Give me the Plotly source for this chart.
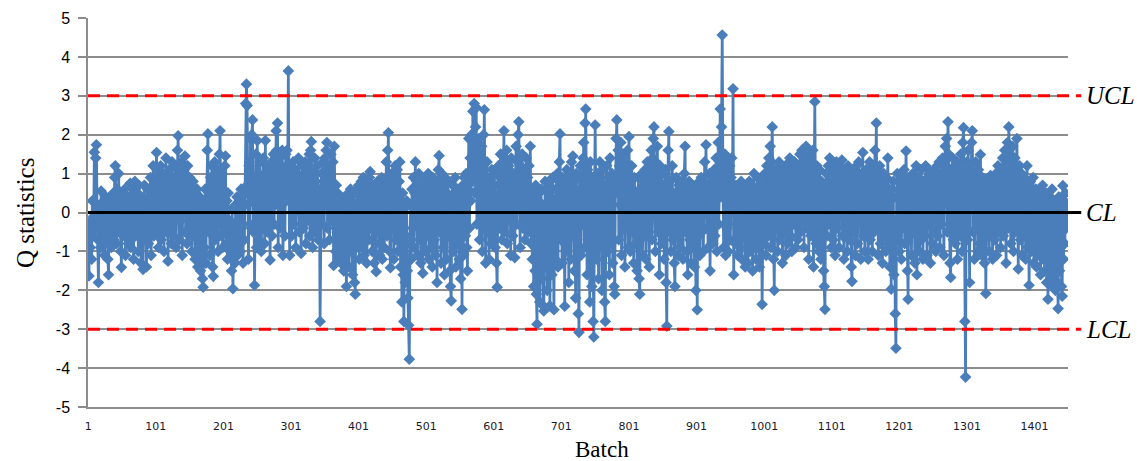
import plotly.graph_objects as go

# Q statistic per batch, split in blocks
q_0001_0250 = [
    -0.3,-1.63,-0.5,-0.9,-0.2,-1.2,0.3,-0.6,-0.1,1.55,
    -0.4,1.4,1.74,0.2,-0.7,-1.8,-0.3,0.1,-0.9,0.55,
    -0.5,0.2,-0.8,0.3,-1.1,-0.2,0.4,-0.6,0.1,-1.2,
    -1.6,0.3,-0.4,0.4,-0.9,0.2,-0.3,0.5,-0.7,0.9,
    1.2,0.1,-0.8,0.6,-0.2,1.0,-0.5,0.3,-1.0,-1.41,
    0.2,-0.6,0.5,-0.3,0.6,-1.1,0.1,-0.5,0.4,-0.8,
    0.3,-0.2,0.75,-0.9,0.2,-0.4,0.6,-1.2,0.0,0.8,
    -0.6,0.3,-0.3,0.5,-1.0,0.7,-0.2,0.4,-1.3,0.1,
    -0.7,-1.46,0.2,0.7,-0.5,0.3,-1.4,0.0,0.6,-0.8,
    0.4,-0.4,0.9,-1.1,0.5,-0.3,1.2,-0.6,0.8,-0.2,
    0.6,1.54,-0.4,1.1,-0.9,0.8,0.2,1.2,-0.7,0.5,
    -0.2,1.0,-1.0,0.7,0.1,1.4,-0.5,0.9,-1.25,0.4,
    1.1,-0.3,0.6,-0.8,1.3,0.2,-0.6,0.9,-0.1,1.2,
    -0.9,0.5,1.6,1.97,0.3,-0.7,1.0,-0.2,1.3,-1.1,
    0.6,0.0,1.1,1.45,-0.5,0.8,-0.8,1.2,0.2,-0.6,
    0.9,-0.4,0.7,-1.0,0.3,0.8,-0.6,0.2,-1.2,0.5,
    -0.3,0.6,-1.4,0.1,-0.8,0.4,-1.5,-0.2,0.3,-1.7,
    -1.92,0.1,-0.9,0.6,-1.3,0.2,1.6,2.02,-0.5,0.4,
    -1.1,0.9,-0.3,1.2,-1.4,-1.64,0.5,1.3,-0.7,0.8,
    -0.2,1.1,-1.0,0.4,1.5,2.1,0.0,-0.6,1.0,-0.9,
    0.6,-0.5,1.2,1.45,-0.8,0.3,-1.2,0.5,-0.6,-0.2,
    -1.0,-0.4,-1.5,0.1,-1.96,-0.7,-0.3,-1.3,0.2,-0.8,
    0.4,-1.1,0.0,-0.6,0.3,-1.0,0.6,-0.4,0.2,-1.3,
    0.5,-0.7,0.65,2.8,3.3,2.75,0.2,-1.2,1.2,-0.3,
    1.9,0.4,2.0,2.38,-0.5,0.9,-1.87,0.6,1.5,-0.9,
]
q_0251_0500 = [
    1.85,0.3,1.0,-0.7,1.3,0.1,-1.0,0.8,-0.4,1.4,
    0.5,-0.8,1.85,0.2,1.2,-0.5,0.9,-0.2,1.1,-1.22,
    0.4,1.3,-0.6,0.7,1.5,-0.3,1.0,0.2,2.1,1.6,
    2.3,-0.9,0.8,1.4,-0.4,0.6,1.2,1.6,-1.1,0.5,
    1.0,-0.6,1.5,0.3,1.6,0.9,3.64,0.4,-1.1,0.7,
    1.2,-0.6,0.9,1.3,-0.3,0.5,1.1,-0.9,0.7,0.2,
    1.0,1.4,-0.5,0.8,0.0,-1.05,0.6,1.2,-0.4,0.9,
    0.3,1.3,-0.8,0.5,1.1,-0.2,0.7,1.5,-0.6,1.6,
    1.82,0.4,-0.9,1.0,0.2,1.4,-0.5,0.8,-0.1,1.2,
    -0.7,0.6,0.1,-2.8,0.5,1.0,-0.3,1.3,0.4,-0.8,
    1.4,0.2,1.6,1.8,-0.4,0.9,1.2,-0.7,0.6,1.5,
    -0.2,0.8,1.3,-1.36,1.7,0.3,-1.0,0.7,-0.5,0.5,
    -1.2,0.2,-0.6,0.4,-1.3,0.1,-0.8,0.3,-1.5,-0.2,
    0.4,-1.1,-1.9,0.2,-0.7,0.5,-1.4,0.0,0.6,-1.0,
    0.3,-1.6,0.5,-0.4,-1.8,-2.1,0.2,-0.9,0.6,-0.3,
    0.7,-1.2,0.4,-0.6,0.8,-0.9,0.2,0.9,-1.1,0.5,
    -0.3,0.8,-1.3,0.3,0.6,-0.7,0.9,1.05,-0.4,0.5,
    -1.0,0.7,0.1,-1.3,0.6,-0.8,-1.52,0.4,0.8,-0.5,
    0.3,-1.1,0.7,-0.2,0.9,-1.2,0.4,0.6,-0.9,0.8,
    0.2,1.3,-0.6,1.6,2.05,0.3,-1.0,-1.42,0.5,1.0,
    -0.4,0.9,-1.2,0.6,1.2,-0.7,0.4,1.1,-1.0,0.3,
    0.8,1.3,-1.4,0.2,-2.3,0.5,-1.6,-2.8,0.1,-1.8,
    -0.6,0.3,-1.5,-2.2,-2.9,-3.77,-0.8,0.2,-1.2,0.6,
    -0.4,0.9,-0.9,0.5,1.3,-0.3,0.8,-1.1,0.4,1.0,
    -0.7,0.6,-1.3,0.2,0.9,-1.56,0.3,-0.5,0.7,-1.0,
]
q_0501_0750 = [
    0.8,-0.6,0.4,1.0,-1.2,0.2,0.7,-0.9,0.5,-1.4,
    0.9,0.1,-0.7,0.6,-1.1,0.8,-1.8,0.3,1.1,1.46,
    -0.5,0.7,-1.3,1.0,0.2,-0.9,0.6,-1.6,0.9,0.0,
    -1.2,0.5,0.8,-0.6,0.3,-1.5,-1.9,-2.27,0.4,0.7,
    -1.0,0.5,-0.3,0.9,-1.4,0.2,0.6,-0.8,0.4,-1.2,
    0.5,-1.7,0.3,-2.49,0.7,-1.1,0.9,0.2,-0.6,1.0,
    -0.9,-1.5,0.6,1.9,-0.4,1.4,0.3,2.0,0.8,2.6,
    1.2,2.8,0.5,2.2,2.7,-0.3,1.5,0.6,1.9,-0.7,
    1.2,0.4,1.7,-1.0,0.9,2.0,2.64,0.3,-1.3,0.8,
    1.3,-0.5,0.6,-1.2,0.9,0.2,-0.8,1.1,0.4,-0.6,
    0.5,1.0,-0.9,0.4,-1.3,-1.92,0.7,1.2,-0.4,0.9,
    1.5,0.1,-0.7,1.3,0.6,2.1,-0.5,1.1,0.3,1.6,
    -0.8,0.7,1.2,-0.2,0.9,-1.1,1.4,0.4,-0.6,1.0,
    0.2,-1.16,0.8,1.7,-0.3,1.3,2.0,2.33,0.5,-0.9,
    1.2,0.3,1.5,-0.4,0.8,1.1,-0.7,0.6,1.4,-0.2,
    0.9,-0.5,1.2,0.3,1.7,-0.8,0.6,-1.2,0.4,-1.9,
    0.2,-1.5,0.7,-2.1,-2.87,0.3,-1.0,0.5,-2.3,-0.4,
    0.6,-1.7,0.2,-2.4,-2.53,-0.6,0.8,-1.4,0.1,-2.0,
    0.5,-1.1,0.7,-2.4,-0.3,0.4,-1.6,0.9,-0.8,-2.5,
    0.3,-1.2,0.6,-0.5,1.0,-1.4,0.8,1.3,2.02,-0.7,
    0.5,-1.3,0.9,-0.6,0.3,-2.41,0.7,-1.0,1.1,-0.4,
    0.6,-1.8,0.9,0.2,-1.2,1.3,-0.5,1.45,0.4,-1.5,
    0.8,-2.2,1.0,-0.7,0.5,-2.6,-3.08,0.6,1.2,-1.1,
    0.9,-0.3,1.4,1.8,-0.9,2.3,2.66,0.7,-1.6,1.1,
    -0.4,0.8,-2.3,1.3,0.2,-1.9,0.9,-2.8,-3.2,0.5,
]
q_0751_1000 = [
    2.25,0.4,-1.2,1.0,0.3,-1.7,0.8,1.3,-0.6,0.5,
    -2.0,1.1,-0.3,0.7,-2.3,-2.8,0.6,1.2,-1.0,0.9,
    0.1,-1.6,1.4,0.3,-0.8,1.0,-1.3,0.6,-1.9,-2.1,
    0.8,1.9,2.38,0.5,1.6,-0.7,1.2,0.2,1.8,-1.1,
    0.9,1.5,-0.4,1.1,-1.4,0.7,1.3,0.0,1.6,-0.9,
    1.95,0.3,-1.0,0.8,1.2,-0.5,0.6,-1.3,0.9,0.2,
    -0.8,0.5,-1.5,0.4,0.9,-1.7,-2.1,0.6,-0.3,1.0,
    -1.1,0.4,0.8,-0.6,1.1,-1.2,0.5,1.3,-0.2,0.9,
    -1.4,1.2,0.3,1.6,-0.7,1.4,1.9,2.2,0.6,-1.0,
    1.3,0.2,1.7,-0.5,0.9,-1.6,1.2,0.4,-0.8,1.0,
    -0.4,0.7,-1.2,0.3,1.1,-1.8,-2.92,0.6,1.6,2.08,
    -0.5,0.8,-1.0,0.4,1.2,-0.7,0.5,-1.3,-1.9,0.2,
    0.9,-0.6,0.4,-1.1,0.7,0.1,-0.9,0.6,-0.3,0.8,
    -1.2,0.4,1.0,1.7,-0.5,0.6,-1.0,-1.6,0.3,0.8,
    -0.7,0.5,-1.3,0.2,0.7,-0.9,0.4,-1.4,0.6,-2.0,
    0.5,-2.5,0.3,-0.6,0.8,-1.1,0.4,0.9,-0.5,0.6,
    -1.0,0.3,1.3,0.5,1.74,-0.4,0.7,-0.9,0.4,1.0,
    -1.5,0.6,-0.2,0.9,-0.8,0.5,1.1,-0.6,0.8,1.4,
    -1.0,0.7,1.8,-0.3,1.2,2.66,0.4,2.2,4.56,1.0,
    -0.9,0.6,1.5,-1.1,0.8,-0.4,1.3,-1.0,0.5,1.2,
    -0.7,0.9,1.4,0.3,3.18,-1.6,0.5,-0.8,0.7,-0.3,
    0.4,-1.1,0.6,0.1,-0.9,0.5,0.8,-1.2,0.3,0.7,
    -0.6,0.2,-1.4,0.6,-0.4,0.4,-1.3,0.1,0.8,-1.0,
    0.5,-0.2,0.7,-1.5,0.4,1.0,-0.7,0.6,-1.2,0.3,
    0.9,-0.9,0.2,-1.4,0.7,-0.5,0.5,-2.36,0.4,0.9,
]
q_1001_1250 = [
    -0.8,1.0,0.3,-1.1,1.2,0.5,-0.6,1.4,0.2,1.7,
    -0.9,1.3,2.2,0.6,-1.2,-2.0,0.8,1.1,-0.4,0.9,
    -1.0,0.5,1.3,-0.7,0.8,0.1,1.1,-1.3,0.6,1.0,
    -0.5,0.7,-1.1,1.2,0.3,-0.8,0.9,1.3,1.4,-0.6,
    0.5,-1.0,1.1,0.4,-0.3,1.3,0.2,-0.9,1.0,0.6,
    -0.7,1.2,0.4,1.5,-0.5,0.9,1.6,-0.2,1.1,-0.9,
    1.4,0.5,1.7,-0.4,0.8,1.3,-1.2,0.6,1.5,-0.6,
    1.0,0.2,1.6,-1.4,0.9,2.85,0.3,-0.8,1.2,-0.3,
    0.7,-1.0,1.1,0.4,-1.2,0.8,-0.5,0.6,-1.5,-1.9,
    -2.49,0.5,1.0,-0.6,0.7,1.2,-0.3,1.4,0.2,-0.9,
    1.0,0.3,-0.7,1.2,0.5,-1.1,0.8,1.3,-0.4,0.6,
    1.1,-0.9,0.4,1.2,0.0,1.35,-0.6,0.9,-1.2,0.7,
    1.1,-0.3,0.8,-1.0,1.2,0.2,-0.7,1.0,0.4,-1.4,
    -1.77,0.6,1.1,-0.5,0.9,-1.1,0.3,1.2,-0.8,0.7,
    1.3,-0.2,0.5,-1.2,1.0,0.4,1.54,-0.6,0.8,-1.0,
    0.7,1.1,-0.4,0.9,-1.2,0.5,1.3,-0.7,0.6,1.0,
    -1.0,0.3,1.2,-0.5,1.6,0.8,2.3,-0.3,1.1,-1.1,
    0.6,1.2,-0.8,0.4,0.9,-1.3,0.5,1.0,-0.6,0.7,
    -1.0,0.9,0.2,1.4,-0.9,0.5,-1.4,0.3,-1.97,0.6,
    -0.5,0.8,-1.6,-0.2,-2.6,-3.49,0.4,1.0,-0.7,0.6,
    -1.0,0.8,0.3,-1.2,0.9,-0.4,0.6,1.1,-0.8,0.5,
    1.58,0.2,-1.5,-2.23,0.7,-0.6,0.9,0.1,-1.1,0.6,
    1.0,-0.5,0.4,-1.3,0.8,1.2,-1.6,0.5,-0.3,0.9,
    -1.0,0.3,1.1,-0.7,0.6,-1.2,0.8,0.2,-0.6,1.2,
    0.4,-1.1,0.9,-0.3,1.1,0.5,-1.3,0.7,1.0,-0.8,
]
q_1251_1450 = [
    0.9,-0.4,1.1,0.3,-1.0,0.8,1.2,-0.6,0.5,1.3,
    -0.9,0.7,1.0,-0.3,1.4,0.2,-1.1,1.2,1.7,0.4,
    1.9,-0.5,2.33,1.5,0.6,-1.3,-1.67,1.1,0.3,1.4,
    -0.7,0.9,1.2,-0.8,0.5,1.3,-1.2,0.8,0.1,1.1,
    -0.6,1.5,0.4,-1.0,1.8,2.18,0.6,-2.8,-4.23,0.5,
    1.3,-0.7,1.6,0.4,-1.8,1.2,0.2,1.8,2.1,-0.5,
    1.0,-1.2,0.6,1.3,-0.4,0.8,-1.0,1.1,0.3,-0.8,
    1.49,0.5,-1.1,0.9,-0.3,0.6,-1.3,0.7,-2.08,0.4,
    -0.6,0.8,0.1,-1.0,0.5,0.95,-0.4,0.6,-1.2,0.3,
    0.8,-0.7,0.5,1.0,-1.1,0.4,1.2,-0.5,0.9,0.2,
    -0.9,1.1,0.4,1.4,-0.6,1.0,1.6,0.3,-1.3,1.2,
    1.8,-0.4,2.2,1.5,0.2,-0.8,1.3,0.6,1.7,-1.0,
    0.9,1.4,-0.5,1.1,1.9,0.3,-1.45,0.8,1.2,-0.7,
    0.5,1.0,-1.1,0.4,0.9,-0.6,0.7,-1.2,0.3,1.2,
    -0.9,0.6,-1.87,0.2,0.8,-1.0,0.5,-0.4,0.9,-1.3,
    0.3,-0.9,0.6,-1.4,0.2,-0.6,0.5,-1.1,0.1,-1.6,
    0.4,-0.8,0.7,-1.2,0.3,-1.5,-0.2,0.5,-1.8,-0.5,
    -2.23,0.2,-1.3,0.4,-1.7,-0.3,0.6,-1.9,-0.7,0.3,
    -1.4,-2.0,0.1,-1.1,-1.8,-2.47,0.4,-1.5,-0.6,0.2,
    -1.9,-2.15,0.69,-1.2,0.3,-0.8,0.5,-0.4,0.2,-0.2,
]

q_values = q_0001_0250 + q_0251_0500 + q_0501_0750 + q_0751_1000 + q_1001_1250 + q_1251_1450
batches = list(range(1, len(q_values) + 1))

x_tick_vals = [1, 101, 201, 301, 401, 501, 601, 701, 801, 901, 1001, 1101, 1201, 1301, 1401]
x_tick_text = [str(v) for v in x_tick_vals]
y_tick_vals = [-5, -4, -3, -2, -1, 0, 1, 2, 3, 4, 5]
y_tick_text = [str(v) for v in y_tick_vals]

limit_names = ["UCL", "CL", "LCL"]
limit_values = [3, 0, -3]
limit_colors = ["#FF0000", "#000000", "#FF0000"]
limit_dash = ["12px,7px", "solid", "12px,7px"]

BLUE = "#4A7EBB"
GRID = "#8C8C8C"
SERIF = "Liberation Serif"

fig = go.Figure()
fig.add_trace(go.Scatter(
    x=batches, y=q_values, mode="lines+markers",
    line=dict(color=BLUE, width=2.75),
    marker=dict(symbol="diamond", size=9, color=BLUE),
    showlegend=False, hoverinfo="x+y",
))

for name, val, col, dash in zip(limit_names, limit_values, limit_colors, limit_dash):
    fig.add_shape(type="line", xref="paper", yref="y", x0=0, x1=1.0135, y0=val, y1=val,
                  line=dict(color=col, width=3, dash=dash), layer="above")
    fig.add_annotation(xref="paper", yref="y", x=1.0165, y=val, text="<i>" + name + "</i>",
                       showarrow=False, xanchor="left", yanchor="middle",
                       font=dict(family=SERIF, size=25, color="#000000"))

# axis titles placed like the reference
fig.add_annotation(xref="paper", yref="paper", x=0.5245, y=-0.1105, text="Batch",
                   showarrow=False, xanchor="center", yanchor="middle",
                   font=dict(family=SERIF, size=23, color="#000000"))
fig.add_annotation(xref="paper", yref="paper", x=-0.0643, y=0.4987, text="Q statistics",
                   showarrow=False, xanchor="center", yanchor="middle", textangle=-90,
                   font=dict(family=SERIF, size=25, color="#000000"))

fig.update_layout(
    width=1137, height=461,
    margin=dict(l=88, r=69, t=18, b=54, autoexpand=False),
    paper_bgcolor="white", plot_bgcolor="white",
    font=dict(family="Liberation Sans", color="#000000"),
)

fig.update_xaxes(
    range=[0.6, 1450.6], tickmode="array", tickvals=x_tick_vals, ticktext=x_tick_text,
    showgrid=False, zeroline=False, showline=True, linecolor=GRID, linewidth=1.5,
    ticks="", tickfont=dict(family="DejaVu Sans", size=11, color="#1a1a2e"),
    ticklabelstandoff=8, automargin=False,
)
fig.update_yaxes(
    range=[-5, 5], tickmode="array", tickvals=y_tick_vals, ticktext=y_tick_text,
    showgrid=True, gridcolor=GRID, gridwidth=1.5, zeroline=False,
    showline=True, linecolor=GRID, linewidth=1.5,
    ticks="outside", ticklen=8, tickcolor=GRID, tickwidth=1.5,
    tickfont=dict(family="Liberation Sans", size=16, color="#000000"),
    ticklabelstandoff=5, automargin=False,
)

fig.write_html("out.html")
